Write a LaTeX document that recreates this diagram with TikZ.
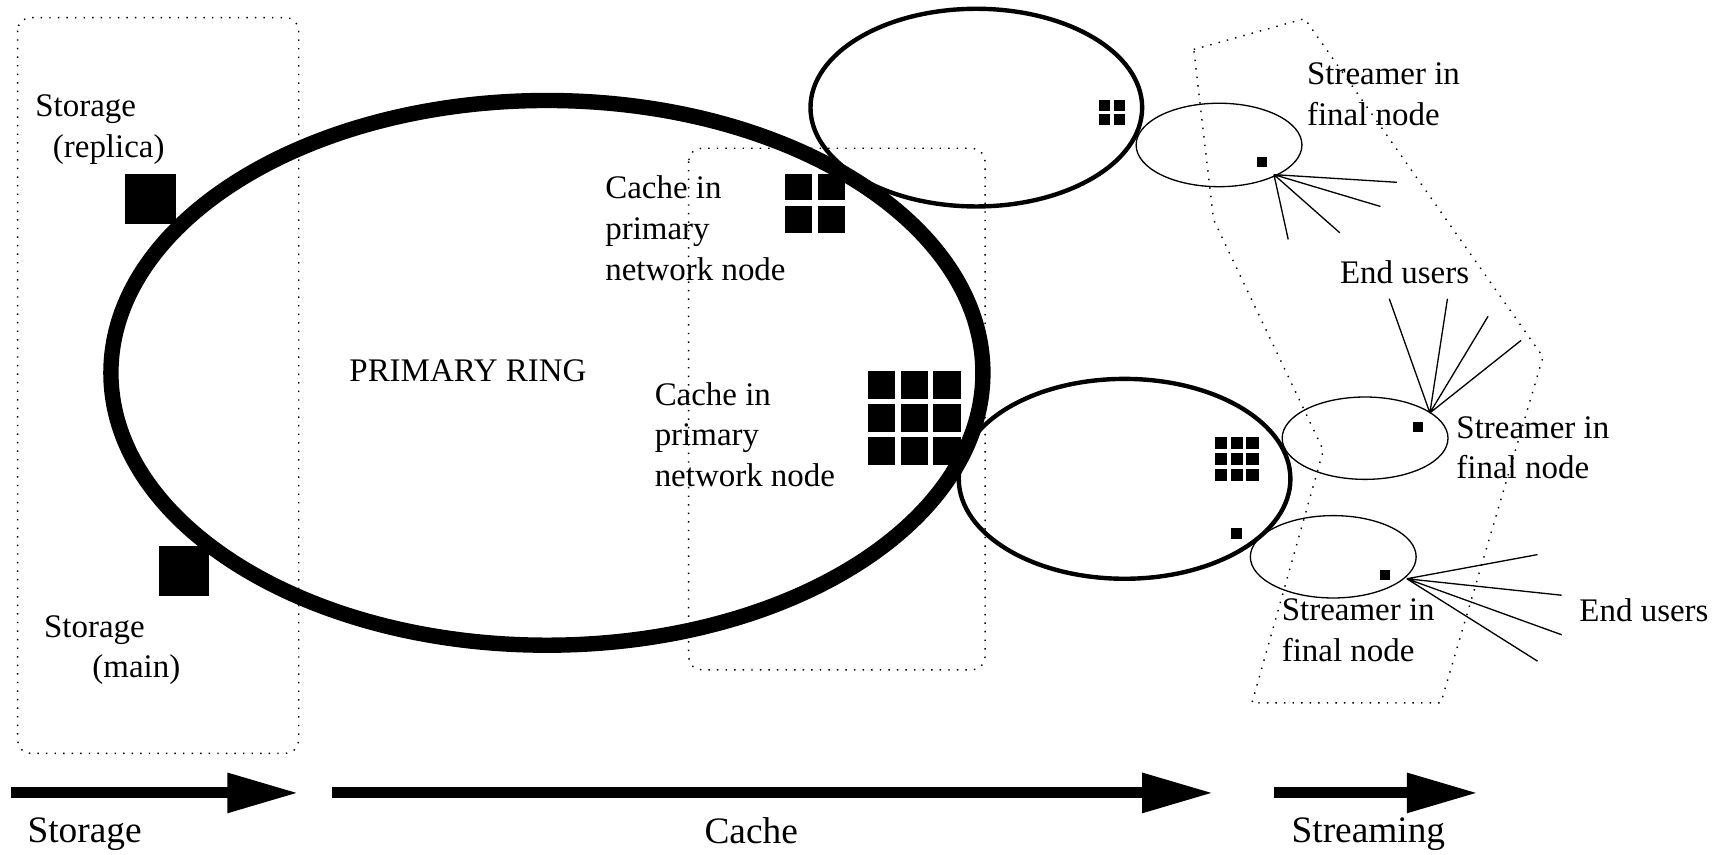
\documentclass[tikz,border=0pt]{standalone}
\usepackage{fontspec}
\setmainfont{Liberation Serif}
\usetikzlibrary{arrows.meta,shapes.geometric}
\newcommand{\sqgrid}[5]{%
  \foreach \i in {1,...,#3}{\foreach \j in {1,...,#3}{%
    \fill ({#1+(\i-1)*(#4+#5)},{#2+(\j-1)*(#4+#5)}) rectangle ++(#4,#4);}}}
\begin{document}
\begin{tikzpicture}[x=1pt,y=-1pt,
  lbl/.style={font=\fontsize{30}{37}\selectfont, inner sep=0pt, align=left, anchor=north west},
  biglbl/.style={font=\fontsize{34}{40}\selectfont, inner sep=0pt, anchor=north},
  region/.style={draw, line width=1.3pt, dash pattern=on 1.3pt off 6.5pt, rounded corners=12pt},
  zone/.style={draw, line width=1.3pt, dash pattern=on 1.3pt off 6.5pt},
  ring/.style={draw, ellipse, line width=14pt, inner sep=0pt},
  netring/.style={draw, ellipse, line width=4pt, inner sep=0pt},
  stream/.style={draw, ellipse, line width=1.2pt, inner sep=0pt},
  user/.style={draw, line width=1.2pt},
  flow/.style={line width=10pt, -{Triangle[length=65pt,width=34pt]}}
]
\useasboundingbox (0,0) rectangle (1568,778);

% regions
\draw[region] (16,16) rectangle (272,686);
\draw[region] (627,135) rectangle (897,610);
\draw[zone] (1087,45) -- (1188,17) -- (1405,325) -- (1312,640) -- (1140,640) -- (1205,410) -- (1105,200) -- cycle;

% rings
\node[ring, minimum width=794pt, minimum height=496pt] (primary) at (498,339.5) {};
\node[netring, minimum width=302pt, minimum height=180pt] (netA) at (889,98) {};
\node[netring, minimum width=302pt, minimum height=182pt] (netB) at (1024,436) {};
\node[stream, minimum width=151pt, minimum height=76pt] (finA) at (1110,132) {};
\node[stream, minimum width=151pt, minimum height=75pt] (finB) at (1243,399) {};
\node[stream, minimum width=151pt, minimum height=75pt] (finC) at (1214,507) {};

% storage squares
\fill (114,158) rectangle (160,204);
\fill (145,497) rectangle (190,543);
% caches
\sqgrid{715}{158}{2}{24.5}{5}
\sqgrid{790}{338}{3}{25}{5}
\sqgrid{1001}{91}{2}{10}{3}
\sqgrid{1106}{398}{3}{11}{3.5}
% streamers
\fill (1121,481) rectangle ++(10,10);
\fill (1145,143) rectangle ++(9,9);
\fill (1287,384) rectangle ++(9,9);
\fill (1257,519) rectangle ++(9,9);

% end users
\coordinate (hA) at (1160,159);
\coordinate (uA1) at (1272,166);
\coordinate (uA2) at (1257,188);
\coordinate (uA3) at (1220,212);
\coordinate (uA4) at (1173,218);
\draw[user] (hA) -- (uA1) (hA) -- (uA2) (hA) -- (uA3) (hA) -- (uA4);
\coordinate (hB) at (1302,376);
\coordinate (uB1) at (1265,272);
\coordinate (uB2) at (1318,272);
\coordinate (uB3) at (1355,288);
\coordinate (uB4) at (1385,310);
\draw[user] (hB) -- (uB1) (hB) -- (uB2) (hB) -- (uB3) (hB) -- (uB4);
\coordinate (hC) at (1281,527);
\coordinate (uC1) at (1400,505);
\coordinate (uC2) at (1422,542);
\coordinate (uC3) at (1422,578);
\coordinate (uC4) at (1400,602);
\draw[user] (hC) -- (uC1) (hC) -- (uC2) (hC) -- (uC3) (hC) -- (uC4);

% labels
\node[lbl] (tStRep) at (32,86) {Storage\\\hspace*{16pt}(replica)};
\node[lbl] (tStMain) at (40,560) {Storage\\\hspace*{44pt}(main)};
\node[lbl] (tRing) at (318,327) {PRIMARY RING};
\node[lbl] (tCacheA) at (551,160) {Cache in\\primary\\network node};
\node[lbl] (tCacheB) at (596,348) {Cache in\\primary\\network node};
\node[lbl] (tFinA) at (1190,57) {Streamer in\\final node};
\node[lbl] (tUsersA) at (1220,237) {End users};
\node[lbl] (tFinB) at (1326,379) {Streamer in\\final node};
\node[lbl] (tFinC) at (1167,545) {Streamer in\\final node};
\node[lbl] (tUsersB) at (1438,545) {End users};

% stage arrows
\coordinate (s0) at (10,722);
\coordinate (s1) at (272,722);
\coordinate (c0) at (302,722);
\coordinate (c1) at (1105,722);
\coordinate (r0) at (1160,722);
\coordinate (r1) at (1346,722);
\draw[flow] (s0) -- (s1);
\draw[flow] (c0) -- (c1);
\draw[flow] (r0) -- (r1);
\node[biglbl] (tStorage) at (77,744) {Storage};
\node[biglbl] (tCache) at (684,744) {Cache};
\node[biglbl] (tStreaming) at (1246,744) {Streaming};
\end{tikzpicture}
\end{document}
